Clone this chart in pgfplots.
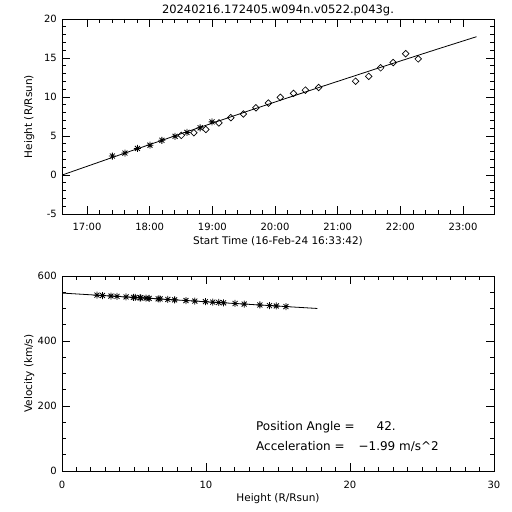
\documentclass[border=0pt]{standalone}
\usepackage{pgfplots}
\pgfplotsset{compat=1.18}
\usepackage{fontspec}
\setmainfont{DejaVu Sans}
\pgfdeclareplotmark{ast8}{%
 \pgfpathmoveto{\pgfpoint{-\pgfplotmarksize}{0pt}}\pgfpathlineto{\pgfpoint{\pgfplotmarksize}{0pt}}%
 \pgfpathmoveto{\pgfpoint{0pt}{-\pgfplotmarksize}}\pgfpathlineto{\pgfpoint{0pt}{\pgfplotmarksize}}%
 \pgfpathmoveto{\pgfpoint{-0.707\pgfplotmarksize}{-0.707\pgfplotmarksize}}\pgfpathlineto{\pgfpoint{0.707\pgfplotmarksize}{0.707\pgfplotmarksize}}%
 \pgfpathmoveto{\pgfpoint{-0.707\pgfplotmarksize}{0.707\pgfplotmarksize}}\pgfpathlineto{\pgfpoint{0.707\pgfplotmarksize}{-0.707\pgfplotmarksize}}%
 \pgfusepathqstroke}
\pgfdeclareplotmark{dia}{%
 \pgfpathmoveto{\pgfpoint{0pt}{\pgfplotmarksize}}\pgfpathlineto{\pgfpoint{\pgfplotmarksize}{0pt}}%
 \pgfpathlineto{\pgfpoint{0pt}{-\pgfplotmarksize}}\pgfpathlineto{\pgfpoint{-\pgfplotmarksize}{0pt}}%
 \pgfpathclose\pgfusepathqstroke}
\pgfplotsset{
  idl/.style={
    scale only axis, width=432pt, height=195pt, anchor=south west,
    axis line style={line width=0.8pt},
    every tick/.style={black, line width=0.7pt},
    major tick length=8pt, minor tick length=4pt,
    tick align=inside,
    /pgf/number format/assume math mode=true,
    tick label style={font=\fontsize{10}{12}\selectfont},
    xticklabel style={anchor=base, inner sep=0pt, yshift=-17pt},
    yticklabel style={anchor=east, inner sep=0pt, xshift=-5pt},
    label style={font=\fontsize{10.5}{12}\selectfont},
    ylabel style={at={(axis description cs:-0.076,0.5)}, anchor=center, xshift=0pt, yshift=0pt},
    xlabel style={at={(axis description cs:0.5,-0.155)}, anchor=base, xshift=0pt, yshift=0pt},
  }
}
\begin{document}
\begin{tikzpicture}
\useasboundingbox (0pt,0pt) rectangle (512pt,512pt);
\begin{axis}[idl,
  at={(62pt,298pt)},
  xmin=16.601, xmax=23.494, ymin=-5, ymax=20,
  xtick={17,18,19,20,21,22,23},
  xticklabels={17:00,18:00,19:00,20:00,21:00,22:00,23:00},
  minor x tick num=4,
  ytick={-5,0,5,10,15,20}, minor y tick num=4,
  xlabel={Start Time (16-Feb-24 16:33:42)},
  ylabel={Height (R/Rsun)},
  title={20240216.172405.w094n.v0522.p043g.},
  every axis title shift=0pt,
  title style={at={(axis description cs:0.5,1.029)}, anchor=base, yshift=0pt, font=\fontsize{11.5}{14}\selectfont},
]
\addplot[black, line width=0.8pt] coordinates {
(16.605,0) (17.605,2.811) (18.605,5.576) (19.605,8.295) (20.605,10.968)
(21.605,13.595) (22.605,16.176) (23.215,17.73)};
\addplot[only marks, mark=ast8, mark size=3.5pt, mark options={line width=0.8pt}] coordinates {
(17.405,2.43) (17.605,2.81) (17.805,3.40) (18.005,3.82) (18.195,4.45)
(18.405,4.96) (18.595,5.46) (18.805,6.05) (18.995,6.81)};
\addplot[only marks, mark=dia, mark size=3.3pt, mark options={line width=0.7pt}] coordinates {
(18.505,5.08) (18.705,5.42) (18.895,5.84) (19.105,6.68) (19.295,7.35)
(19.495,7.82) (19.695,8.61) (19.895,9.22) (20.085,9.96) (20.295,10.47)
(20.485,10.88) (20.695,11.22) (21.285,12.02) (21.495,12.65) (21.685,13.74)
(21.885,14.41) (22.085,15.55) (22.285,14.88)};
\end{axis}
\begin{axis}[idl,
  at={(62pt,41pt)},
  xmin=0, xmax=30, ymin=0, ymax=600,
  xtick={0,10,20,30}, minor x tick num=9,
  ytick={0,200,400,600}, minor y tick num=3,
  xlabel={Height (R/Rsun)},
  ylabel={Velocity (km/s)},
]
\addplot[black, line width=0.8pt] coordinates {(0,547.5) (17.73,500.1)};
\addplot[only marks, mark=ast8, mark size=3.5pt, mark options={line width=0.8pt}] coordinates {
(2.43,541.0) (2.81,540.0) (3.40,538.4) (3.82,537.3) (4.45,535.6) (4.96,534.3)
(5.08,533.9) (5.42,533.0) (5.46,532.9) (5.84,531.9) (6.05,531.3) (6.68,529.7)
(6.81,529.3) (7.35,527.9) (7.82,526.6) (8.61,524.5) (9.22,522.9) (9.96,520.9)
(10.47,519.5) (10.88,518.5) (11.22,517.5) (12.02,515.4) (12.65,513.7) (13.74,510.8)
(14.41,509.0) (14.88,507.8) (15.55,506.0)};
\node[anchor=base west, inner sep=0pt, font=\fontsize{12}{14}\selectfont] at (axis cs:13.47,126) {Position Angle =\hspace{22pt}42.};
\node[anchor=base west, inner sep=0pt, font=\fontsize{12}{14}\selectfont] at (axis cs:13.47,62) {Acceleration =\hspace{14pt}−1.99 m/s\textasciicircum 2};
\end{axis}
\end{tikzpicture}
\end{document}
